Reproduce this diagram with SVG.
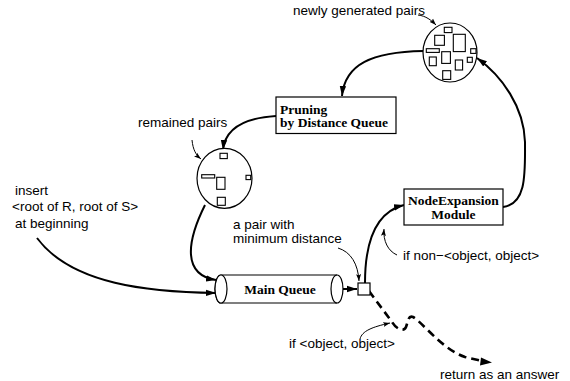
<svg xmlns="http://www.w3.org/2000/svg" width="570" height="381" viewBox="0 0 570 381">
<defs>
<marker id="ah" markerUnits="userSpaceOnUse" markerWidth="11" markerHeight="8" refX="10" refY="4" orient="auto" viewBox="0 0 11 8"><path d="M0,0.8 L10,4 L0,7.2 Z" fill="#000"/></marker>
<marker id="as" markerUnits="userSpaceOnUse" markerWidth="8" markerHeight="6" refX="7" refY="3" orient="auto" viewBox="0 0 8 6"><path d="M0,0.5 L7,3 L0,5.5 L1.5,3 Z" fill="#000"/></marker>
</defs>
<style>
.lbl{font-family:"Liberation Sans",Arial,sans-serif;font-size:13.5px;fill:#000}
.bt{font-family:"Liberation Serif","Times New Roman",serif;font-size:13.5px;font-weight:bold;fill:#000}
.box{fill:#fff;stroke:#000;stroke-width:1.2}
.pr{fill:none;stroke:#000;stroke-width:1.1}
.main{fill:none;stroke:#000;stroke-width:2;marker-end:url(#ah)}
.thin{fill:none;stroke:#000;stroke-width:1;marker-end:url(#as)}
</style>
<rect width="570" height="381" fill="#fff"/>

<g id="connectors">
<path class="main" d="M423,51 C372,52 345,64 342,96"/>
<path class="main" d="M276,116 C242,118 225,130 223,150"/>
<path class="main" d="M205,205 C186,243 183,275 216,280"/>
<path class="main" d="M37,238 C72,285 150,292 216,293"/>
<path class="main" d="M338,289 L357,289"/>
<path class="main" d="M365,283 C365,250 372,213 404,205"/>
<path class="main" d="M503,207 C527,204 525,172 525,142 C524,107 502,76 477,58"/>
<path fill="none" stroke="#000" stroke-width="2.6" stroke-dasharray="8,5" d="M369,291 L392,322 C397,330 404,332 406,327 C408,322 408,315 413,317 C421,321 443,350 465,357 L482,361"/>
<path d="M481,357.5 L492,362.5 L480,365.5 Z" fill="#000"/>
<path class="thin" d="M418,15 C426,16 431,20 436,25"/>
<path class="thin" d="M192,140 C193,150 196,155 201,159"/>
<path class="thin" d="M338,248 C351,252 358,264 359,281"/>
<path class="thin" d="M397,255 C388,251 383,241 384,229"/>
<path class="thin" d="M360,339 C362,331 372,327 390,323"/>
</g>

<g id="newly-generated-pairs">
<ellipse class="box" cx="450" cy="52.5" rx="27" ry="29.5"/>
<rect class="pr" x="444.3" y="27.3" width="7.7" height="5.3"/>
<rect class="pr" x="434.7" y="35.3" width="9.7" height="10"/>
<rect class="pr" x="453.3" y="34.3" width="12" height="17.3"/>
<rect class="pr" x="426.3" y="48.7" width="13" height="3.7"/>
<rect class="pr" x="470.7" y="48.7" width="5.3" height="4.7"/>
<rect class="pr" x="441.7" y="51.7" width="8.7" height="11.7"/>
<rect class="pr" x="429.3" y="57" width="7" height="8.7"/>
<rect class="pr" x="455.3" y="60" width="7.3" height="10"/>
<rect class="pr" x="467.3" y="57.3" width="5" height="5"/>
<rect class="pr" x="442.7" y="70.7" width="8" height="8.7"/>
<text class="lbl" x="293" y="14.5">newly generated pairs</text>
</g>

<g id="pruning">
<rect class="box" x="276" y="97" width="120" height="36.5"/>
<text class="bt" x="280" y="113.5">Pruning</text>
<text class="bt" x="280" y="127">by Distance Queue</text>
</g>

<g id="remained-pairs">
<ellipse class="box" cx="224.5" cy="178.3" rx="27.5" ry="30"/>
<rect class="pr" x="220" y="153.3" width="7.3" height="5.3"/>
<rect class="pr" x="201.7" y="174.7" width="13" height="3.3"/>
<rect class="pr" x="216.7" y="177.3" width="8.3" height="12"/>
<rect class="pr" x="246" y="175.3" width="4.7" height="4.3"/>
<rect class="pr" x="217.3" y="197.3" width="8" height="8"/>
<text class="lbl" x="138" y="127">remained pairs</text>
</g>

<g id="insert-label">
<text class="lbl" x="15" y="194.5">insert</text>
<text class="lbl" x="12" y="211">&lt;root of R, root of S&gt;</text>
<text class="lbl" x="15" y="227.5">at beginning</text>
</g>

<g id="main-queue">
<path class="box" d="M221,275 L337,275 A6,14 0 0 1 337,303 L221,303 A6,14 0 0 1 221,275 Z"/>
<ellipse class="box" cx="221" cy="289" rx="6" ry="14"/>
<path fill="none" stroke="#000" stroke-width="1.2" d="M337,275 A6,14 0 0 0 337,303"/>
<text class="bt" x="280" y="293.5" text-anchor="middle">Main Queue</text>
</g>

<g id="pair-square">
<rect class="box" x="358" y="283" width="12" height="12"/>
<text class="lbl" x="233" y="229">a pair with</text>
<text class="lbl" x="233" y="243">minimum distance</text>
</g>

<g id="node-expansion">
<rect class="box" x="404" y="189" width="99" height="36"/>
<text class="bt" x="453.5" y="205" text-anchor="middle">NodeExpansion</text>
<text class="bt" x="453.5" y="218.5" text-anchor="middle">Module</text>
</g>

<g id="labels">
<text class="lbl" x="403" y="260">if non−&lt;object, object&gt;</text>
<text class="lbl" x="289" y="348">if &lt;object, object&gt;</text>
<text class="lbl" x="440" y="379">return as an answer</text>
</g>
</svg>
